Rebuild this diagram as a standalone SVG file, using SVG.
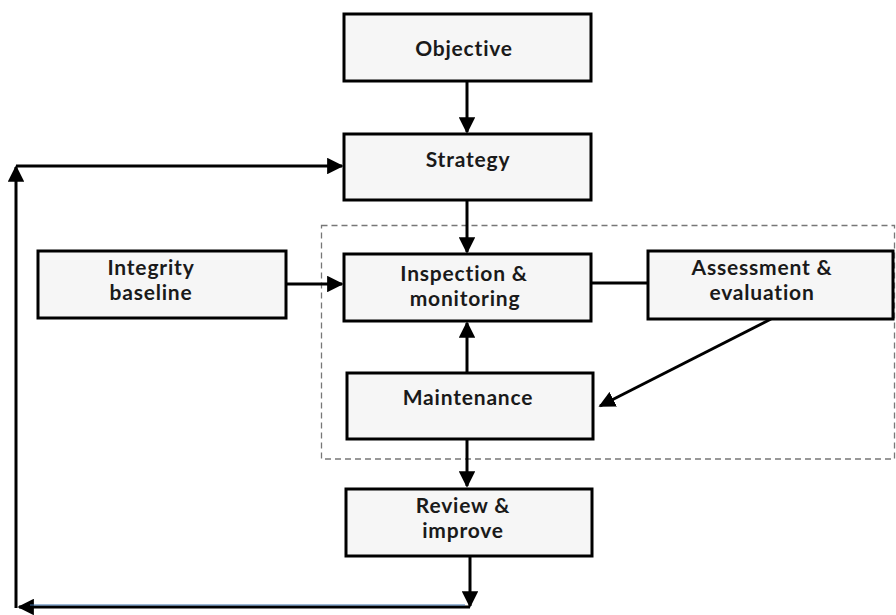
<svg xmlns="http://www.w3.org/2000/svg" width="896" height="615" viewBox="0 0 896 615">
<defs>
<style>
.box{fill:#f6f6f6;stroke:#000;stroke-width:3}
.t{font-family:Lato,"Open Sans","Liberation Sans",sans-serif;font-weight:bold;font-size:21px;letter-spacing:0.8px;fill:#1a1a1a;text-anchor:middle}
.c{stroke:#000;stroke-width:3;fill:none}
</style>
<marker id="ah" viewBox="0 0 10 10" refX="9" refY="5" markerWidth="5.5" markerHeight="5.5" markerUnits="strokeWidth" orient="auto">
<path d="M0,0 L10,5 L0,10 z" fill="#000"/>
</marker>
</defs>
<rect x="0" y="0" width="896" height="615" fill="#fff"/>
<rect id="group-box" x="321.5" y="225.5" width="573" height="233.5" fill="none" stroke="#777" stroke-width="1.3" stroke-dasharray="6,4"/>
<g id="connectors">
<line class="c" x1="467" y1="81" x2="467" y2="132" marker-end="url(#ah)"/>
<line class="c" x1="467" y1="200" x2="467" y2="252" marker-end="url(#ah)"/>
<line class="c" x1="287" y1="284" x2="342" y2="284" marker-end="url(#ah)"/>
<line class="c" x1="591" y1="283" x2="648" y2="283"/>
<line class="c" x1="771" y1="319" x2="600" y2="406" marker-end="url(#ah)"/>
<line class="c" x1="467" y1="373" x2="467" y2="323" marker-end="url(#ah)"/>
<line class="c" x1="467" y1="439" x2="467" y2="486" marker-end="url(#ah)"/>
<line class="c" x1="470" y1="556" x2="470" y2="606" marker-end="url(#ah)"/>
<line class="c" x1="470" y1="607" x2="19" y2="607" marker-end="url(#ah)"/>
<line x1="30" y1="605" x2="465" y2="605" stroke="#3b6fa8" stroke-width="1"/>
<line class="c" x1="16" y1="608" x2="16" y2="167" marker-end="url(#ah)"/>
<line class="c" x1="16" y1="166" x2="342" y2="166" marker-end="url(#ah)"/>
</g>
<g id="objective">
<rect class="box" x="344" y="14" width="247" height="67"/>
<text class="t" x="464" y="56">Objective</text>
</g>
<g id="strategy">
<rect class="box" x="344" y="134" width="247" height="66"/>
<text class="t" x="468" y="167">Strategy</text>
</g>
<g id="integrity-baseline">
<rect class="box" x="38" y="251" width="248" height="67"/>
<text class="t" x="151" y="275">Integrity</text>
<text class="t" x="151" y="300">baseline</text>
</g>
<g id="inspection">
<rect class="box" x="344" y="254" width="247" height="67"/>
<text class="t" x="464" y="281">Inspection &amp;</text>
<text class="t" x="465" y="306">monitoring</text>
</g>
<g id="assessment">
<rect class="box" x="648" y="251" width="245" height="68"/>
<text class="t" x="762" y="275">Assessment &amp;</text>
<text class="t" x="762" y="300">evaluation</text>
</g>
<g id="maintenance">
<rect class="box" x="347" y="373" width="246" height="66"/>
<text class="t" x="468" y="405">Maintenance</text>
</g>
<g id="review">
<rect class="box" x="346" y="489" width="246" height="67"/>
<text class="t" x="463" y="513">Review &amp;</text>
<text class="t" x="463" y="538">improve</text>
</g>
</svg>
